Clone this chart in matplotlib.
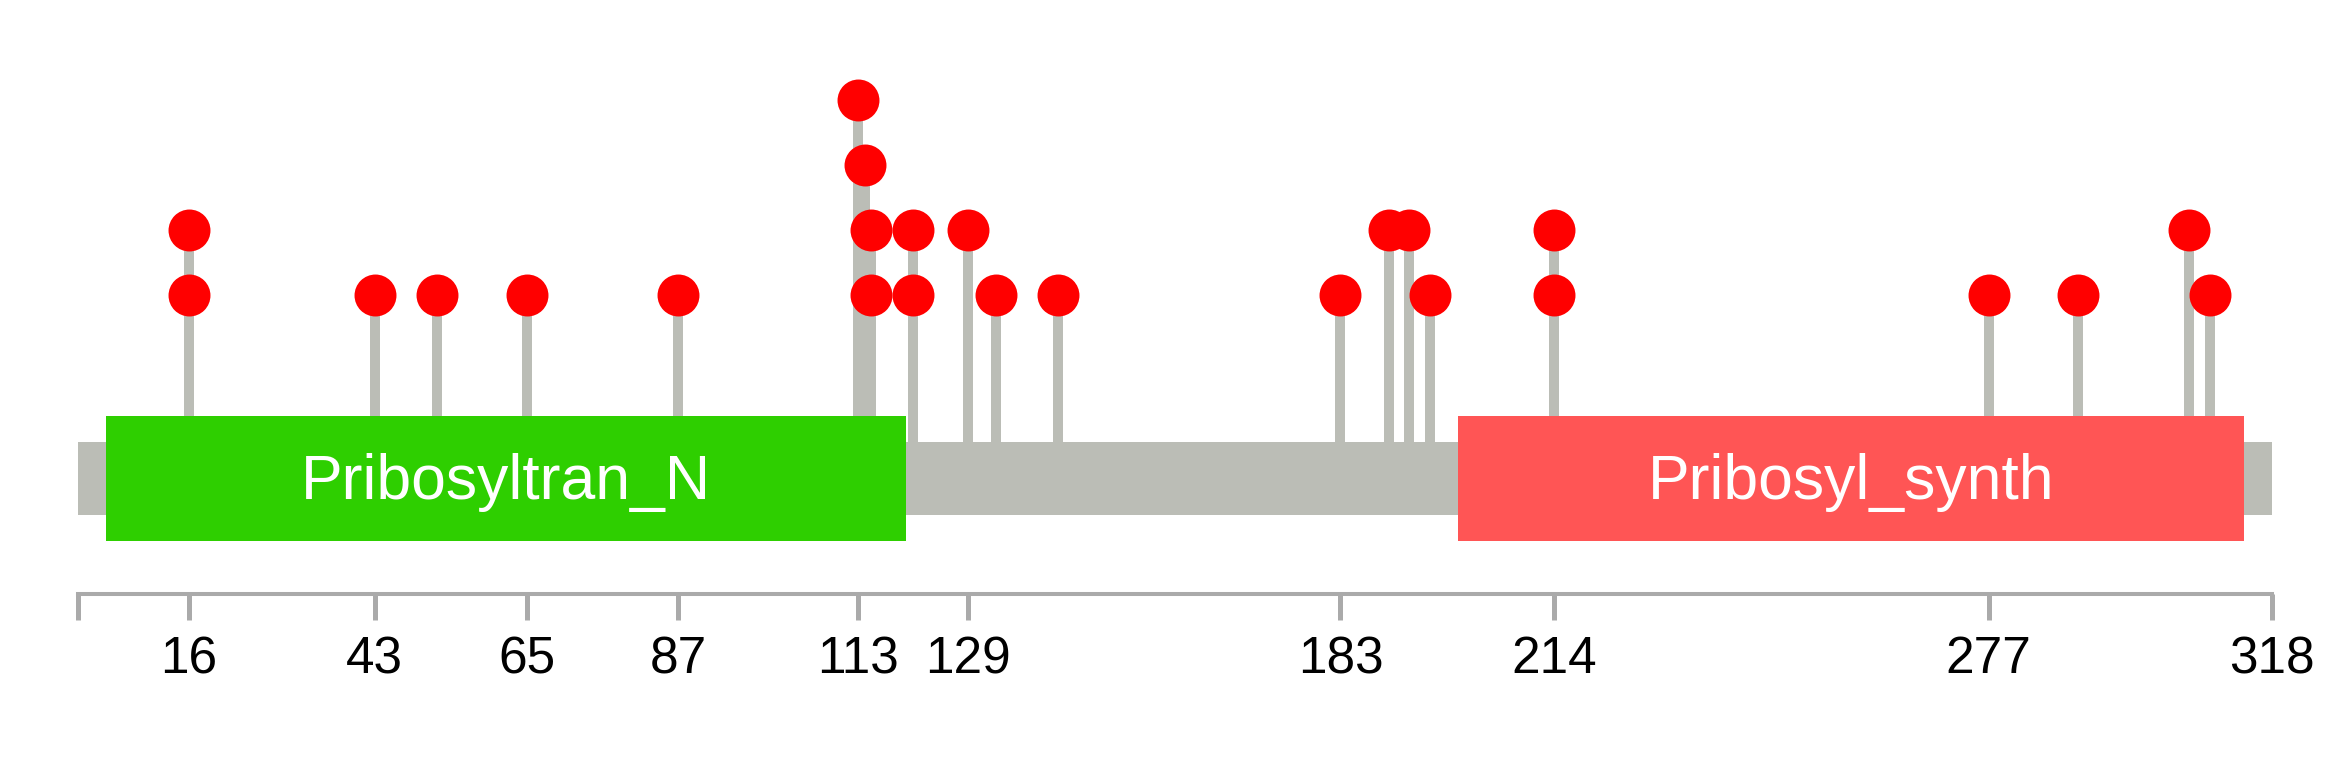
import matplotlib
matplotlib.use('Agg')
import matplotlib.pyplot as plt

plt.rcParams['font.family'] = ['Liberation Sans', 'DejaVu Sans']

# protein length and domains
protein_len = 318
domain_names = ['Pribosyltran_N', 'Pribosyl_synth']
domain_start = [4, 200]
domain_end = [120, 314]
domain_colors = ['#2ecf00', '#ff5555']

# modification sites (residue, stack level)
site_pos = [16, 16, 43, 52, 65, 87, 113, 114, 115, 115, 121, 121, 129, 133,
            142, 183, 190, 193, 196, 214, 214, 277, 290, 306, 309]
site_level = [1, 2, 1, 1, 1, 1, 4, 3, 1, 2, 1, 2, 2, 1,
              1, 1, 2, 2, 1, 1, 2, 1, 1, 2, 1]

tick_pos = [0, 16, 43, 65, 87, 113, 129, 183, 214, 277, 318]
tick_lab = ['', '16', '43', '65', '87', '113', '129', '183', '214', '277', '318']

grey = '#bbbdb6'

fig = plt.figure(figsize=(23.48, 7.76), dpi=100)
ax = fig.add_axes([0, 0, 1, 1])
ax.set_xlim(-11.35, 329.08)
ax.set_ylim(-6.373, 5.529)

# backbone
bb_top, bb_bot = -1.25, -2.374
ax.fill_between([0, protein_len], bb_bot, bb_top, color=grey, lw=0, zorder=2)

# stems (per site, highest level wins)
top = {}
for p, l in zip(site_pos, site_level):
    top[p] = max(top.get(p, 0), l)
for p, l in top.items():
    ax.plot([p, p], [bb_top, l], color=grey, lw=7.2, solid_capstyle='butt', zorder=1)

# domains
for name, s, e, c in zip(domain_names, domain_start, domain_end, domain_colors):
    ax.fill_between([s, e], -2.773, -0.847, color=c, lw=0, zorder=3)
    ax.text((s + e) / 2, -2.124, name, color='white', fontsize=45,
            ha='center', va='baseline', zorder=5)

# lollipop heads
ax.plot(site_pos, site_level, 'o', color='#ff0000', ms=30.2, mew=0, zorder=4)

# position axis
for side in ['top', 'right', 'left']:
    ax.spines[side].set_visible(False)
ax.spines['bottom'].set_position(('data', -3.577))
ax.spines['bottom'].set_bounds(0, protein_len)
ax.spines['bottom'].set_color('#aaaaaa')
ax.spines['bottom'].set_linewidth(2.9)
ax.set_xticks(tick_pos)
ax.set_xticklabels(tick_lab)
ax.tick_params(axis='x', direction='out', length=19, width=3.6, color='#aaaaaa',
               labelsize=37, pad=11)
ax.set_yticks([])
ax.patch.set_visible(False)

fig.savefig('out.png', dpi=100)
